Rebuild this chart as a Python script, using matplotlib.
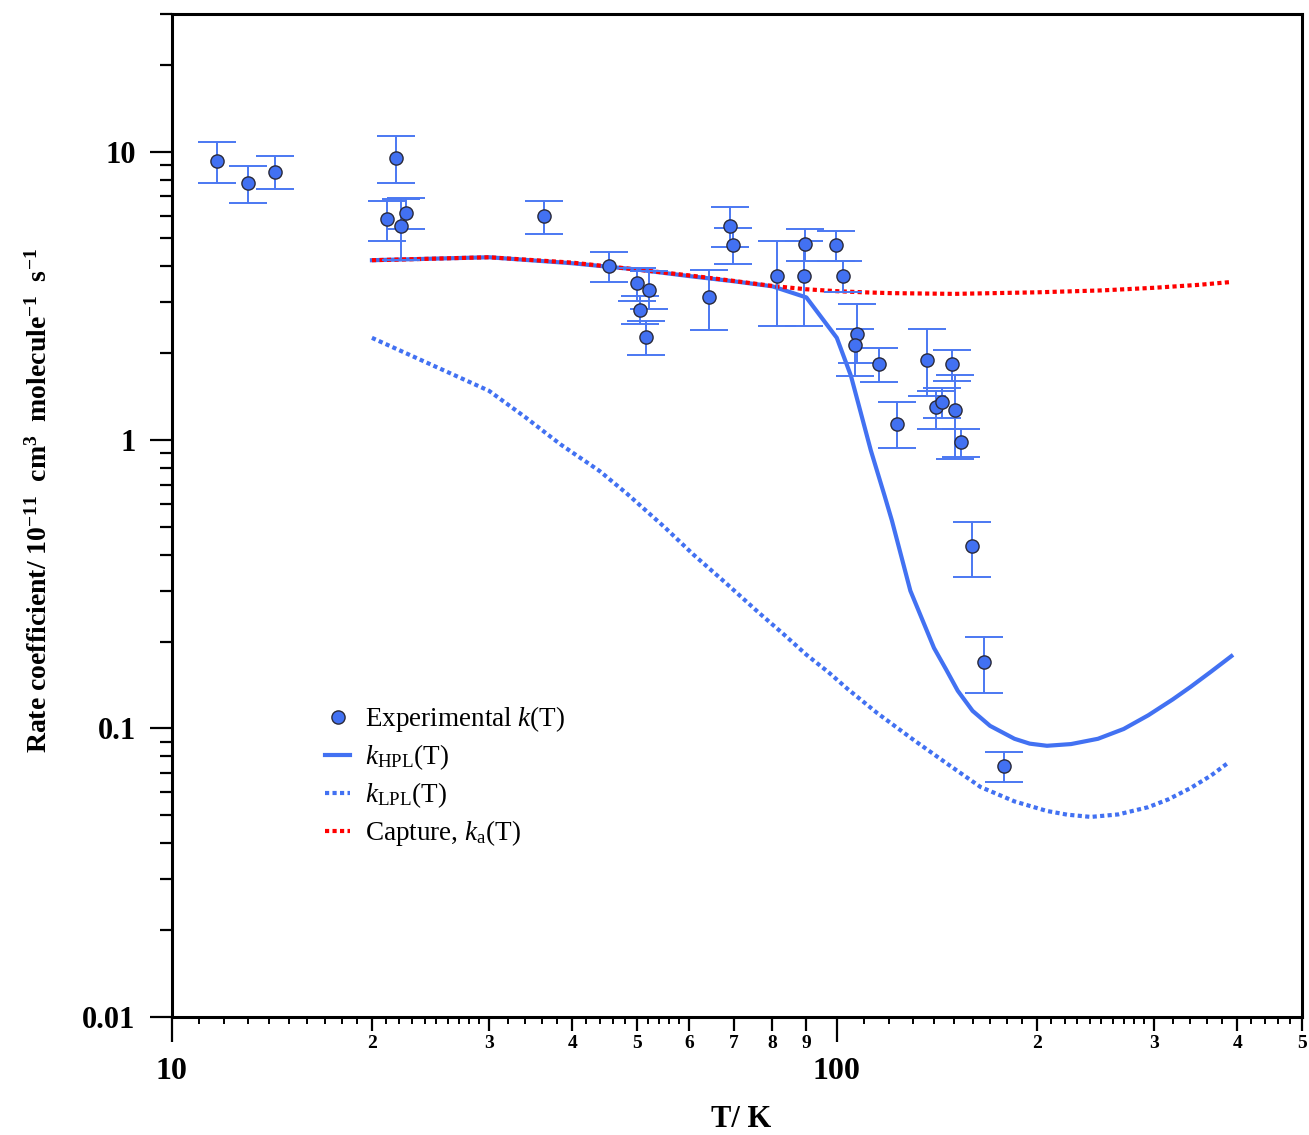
import matplotlib

matplotlib.use('Agg')
import matplotlib.pyplot as plt
import numpy as np
from matplotlib.ticker import FixedLocator, FixedFormatter, NullLocator, LogLocator

plt.rcParams['font.family'] = 'Liberation Serif'
plt.rcParams['mathtext.fontset'] = 'custom'
plt.rcParams['mathtext.rm'] = 'Liberation Serif'
plt.rcParams['mathtext.it'] = 'Liberation Serif:italic'
plt.rcParams['mathtext.bf'] = 'Liberation Serif:bold'

# Experimental k(T), 10^-11 cm3 molecule-1 s-1
exp_T = [11.7, 13.0, 14.3, 21.7, 21.1, 22.1, 22.5, 36.3, 45.4, 50.0, 52.2, 50.6,
         51.7, 64.3, 69.0, 69.7, 81.3, 89.7, 89.4, 99.7, 102.1, 107.1, 106.4, 115.8,
         123.0, 136.6, 140.9, 143.8, 148.8, 150.6, 153.6, 159.6, 166.3, 178.1]
exp_k = [9.31, 7.79, 8.51, 9.53, 5.82, 5.53, 6.14, 5.96, 4.0, 3.49, 3.31, 2.83,
         2.28, 3.14, 5.51, 4.73, 3.69, 4.79, 3.69, 4.74, 3.70, 2.33, 2.13, 1.84,
         1.14, 1.90, 1.30, 1.35, 1.83, 1.27, 0.98, 0.428, 0.170, 0.0739]
exp_hi = [10.83, 8.94, 9.66, 11.3, 6.75, 6.84, 6.9, 6.73, 4.47, 3.95, 3.84, 3.15,
          2.59, 3.87, 6.4, 5.43, 4.88, 5.37, 4.88, 5.32, 4.17, 2.97, 2.42, 2.09,
          1.35, 2.42, 1.48, 1.51, 2.05, 1.68, 1.09, 0.52, 0.207, 0.0825]
exp_lo = [7.75, 6.65, 7.39, 7.81, 4.91, 4.22, 5.37, 5.19, 3.52, 3.04, 2.85, 2.52,
          1.97, 2.41, 4.67, 4.06, 2.49, 4.19, 2.49, 4.17, 3.27, 1.85, 1.67, 1.59,
          0.94, 1.42, 1.09, 1.19, 1.60, 0.86, 0.87, 0.334, 0.1327, 0.0654]

# High pressure limit
hpl_T = [20, 30, 40, 50, 60, 70, 80, 90, 100, 105, 112.5, 118, 121, 129, 140, 146,
         152, 160, 170, 185, 195, 207, 225, 247, 270, 294, 320, 340, 365, 392]
hpl_k = [4.2, 4.3, 4.1, 3.9, 3.7, 3.55, 3.41, 3.12, 2.26, 1.67, 0.92, 0.64, 0.526,
         0.30, 0.19, 0.16, 0.135, 0.115, 0.102, 0.092, 0.0885, 0.087, 0.0882, 0.092,
         0.0995, 0.111, 0.126, 0.139, 0.157, 0.178]

# Low pressure limit
lpl_T = [20, 30, 34, 38.4, 44, 48.4, 55, 60.9, 68, 76.6, 83, 90, 97, 103.8, 115,
         130.6, 147, 164.5, 185, 207, 222, 241, 265, 294, 315, 340, 365, 389]
lpl_k = [2.26, 1.48, 1.2, 0.966, 0.78, 0.65, 0.50, 0.40, 0.32, 0.25, 0.213, 0.18,
         0.157, 0.137, 0.113, 0.091, 0.075, 0.0626, 0.0558, 0.0517, 0.0502, 0.0493,
         0.0503, 0.0533, 0.0567, 0.062, 0.0685, 0.0764]

# Capture
cap_T = [20, 30, 40, 50, 60, 70, 80, 90, 100, 110, 120, 150, 200, 250, 300, 350, 392]
cap_k = [4.2, 4.3, 4.12, 3.9, 3.72, 3.56, 3.42, 3.33, 3.28, 3.25, 3.23, 3.21, 3.25,
         3.3, 3.37, 3.45, 3.53]

x_mid_ticks = [20, 30, 40, 50, 60, 70, 80, 90, 200, 300, 400, 500]
x_mid_labels = ['2', '3', '4', '5', '6', '7', '8', '9', '2', '3', '4', '5']

blue = '#4271F2'
bar_blue = '#4B78F2'

fig = plt.figure(figsize=(13.09, 11.35), dpi=100)
ax = fig.add_axes([0.1312, 0.1042, 0.8632, 0.8835])

ax.plot(hpl_T, hpl_k, '-', color=blue, lw=3, label=r'$\mathit{k}_{\mathrm{HPL}}$(T)')
ax.plot(lpl_T, lpl_k, color=blue, lw=3, ls=(0, (1, 0.8)),
        label=r'$\mathit{k}_{\mathrm{LPL}}$(T)')
ax.plot(cap_T, cap_k, color='#FF0000', lw=3, ls=(0, (1, 0.8)),
        label=r'Capture, $\mathit{k}_{\mathrm{a}}$(T)')

k = np.array(exp_k)
yerr = [k - np.array(exp_lo), np.array(exp_hi) - k]
ax.errorbar(exp_T, exp_k, yerr=yerr, fmt='none', ecolor=bar_blue, elinewidth=1.4,
            capsize=14, capthick=1.4, zorder=3)
ax.plot(exp_T, exp_k, 'o', ms=9.5, mfc=blue, mec='#2a2a3a', mew=1.0, ls='none',
        zorder=4, label=r'Experimental $\mathit{k}$(T)')

ax.set_xscale('log')
ax.set_yscale('log')
ax.set_xlim(10, 500)
ax.set_ylim(0.01, 30)

# x ticks: decades, labelled middle ticks, plain small ticks
ax.xaxis.set_major_locator(FixedLocator([10, 100]))
ax.xaxis.set_major_formatter(FixedFormatter(['10', '100']))
ax.xaxis.set_minor_locator(FixedLocator(x_mid_ticks))
ax.xaxis.set_minor_formatter(FixedFormatter(x_mid_labels))
ax.tick_params(axis='x', which='major', length=18, width=1.6, pad=11, labelsize=23)
ax.tick_params(axis='x', which='minor', length=10, width=1.6, pad=3, labelsize=14)
for lab in ax.get_xticklabels(which='both'):
    lab.set_fontweight('bold')

small = np.concatenate([np.arange(11, 20), np.arange(21, 30), np.arange(32, 40, 2),
                        np.arange(42, 50, 2), np.arange(52, 60, 2),
                        np.arange(110, 200, 10), np.arange(210, 300, 10),
                        np.arange(320, 400, 20), np.arange(420, 500, 20)])
sec = ax.secondary_xaxis('bottom')
sec.xaxis.set_major_locator(FixedLocator(small))
sec.xaxis.set_minor_locator(NullLocator())
sec.tick_params(axis='x', length=5, width=1.4, labelbottom=False)
sec.spines['bottom'].set_visible(False)

ax.yaxis.set_major_locator(FixedLocator([0.01, 0.1, 1, 10]))
ax.yaxis.set_major_formatter(FixedFormatter(['0.01', '0.1', '1', '10']))
ax.yaxis.set_minor_locator(LogLocator(base=10, subs=np.arange(2, 10)))
ax.tick_params(axis='y', which='major', length=16, width=1.6, pad=10, labelsize=22)
ax.tick_params(axis='y', which='minor', length=8.5, width=1.6)
for lab in ax.get_yticklabels():
    lab.set_fontweight('bold')

for s in ax.spines.values():
    s.set_linewidth(2.2)

ax.set_xlabel('T/ K', fontsize=22, fontweight='bold', va='center')
ax.xaxis.set_label_coords(0.5035, -0.1027)
ax.set_ylabel(r'Rate coefficient/ 10$^{\mathbf{-11}}$  cm$^{\mathbf{3}}$  molecule$^{\mathbf{-1}}$  s$^{\mathbf{-1}}$',
              fontsize=20, fontweight='bold', va='center')
ax.yaxis.set_label_coords(-0.1168, 0.515)

h, l = ax.get_legend_handles_labels()
order = [3, 0, 1, 2]
ax.legend([h[i] for i in order], [l[i] for i in order], loc='upper left',
          bbox_to_anchor=(0.124, 0.325), frameon=False, fontsize=19.5,
          handlelength=0.9, handletextpad=0.55, labelspacing=0.3, borderpad=0)

fig.savefig('out.png', dpi=100)
